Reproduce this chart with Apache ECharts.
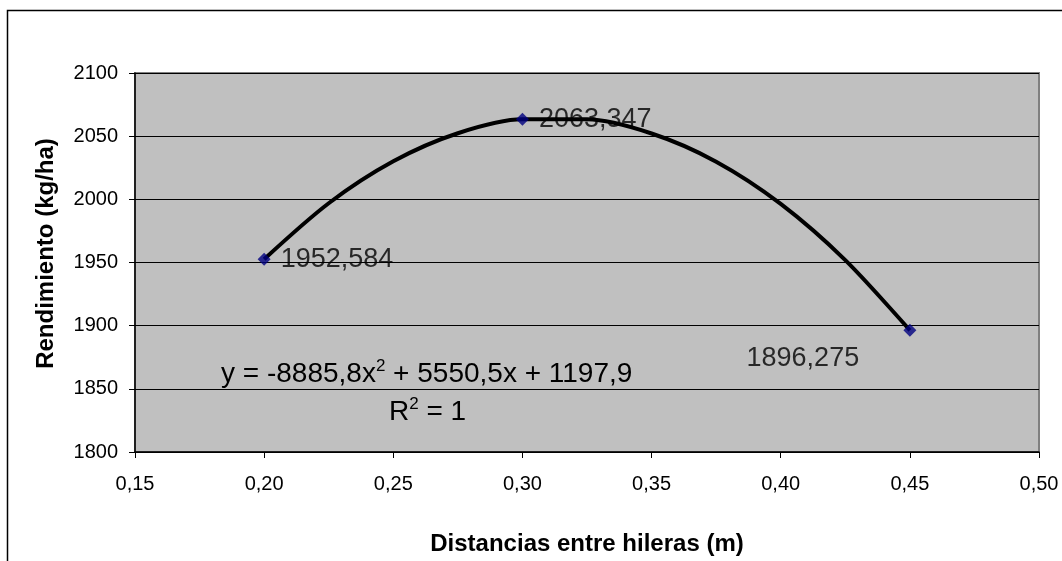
<!DOCTYPE html>
<html lang="es">
<head>
    <meta charset="UTF-8">
    <title>Rendimiento</title>
    <script type="text/javascript" src="https://cdn.jsdelivr.net/npm/echarts@6/dist/echarts.min.js"></script>
    <style>
        body { margin: 0; }
    </style>
</head>
<body>
<div id="main" style="width: 1062px;height:561px"></div>

<script type="text/javascript">
    // puntos observados
    var distancias = [0.20, 0.30, 0.45];
    var rendimientos = [1952.584, 2063.347, 1896.275];
    var etiquetas = ['1952,584', '2063,347', '1896,275'];

    // linea de tendencia
    var trendX = [0.20, 0.225, 0.25, 0.275, 0.30, 0.325, 0.35, 0.375, 0.40, 0.425, 0.45];
    var trendY = [1952.6, 1996.9, 2030.1, 2052.3, 2063.3, 2063.3, 2052.1, 2029.8, 1996.4, 1951.9, 1896.3];

    var xTicks = ['0,15', '0,20', '0,25', '0,30', '0,35', '0,40', '0,45', '0,50'];

    var font = 'Liberation Sans, Arial, sans-serif';
    var chartDom = document.getElementById('main');
    var myChart = echarts.init(chartDom);

    var trendData = [];
    for (var i = 0; i < trendX.length; i++) {
        trendData.push([trendX[i], trendY[i]]);
    }
    var pointData = [];
    for (var j = 0; j < distancias.length; j++) {
        var p = {value: [distancias[j], rendimientos[j]], label: {formatter: etiquetas[j]}};
        if (j === 2) {
            p.label.position = 'inside';
            p.label.offset = [-107, 28];
        }
        pointData.push(p);
    }

    var rich = {
        n: {fontSize: 28, fontFamily: font, fill: '#000', verticalAlign: 'bottom'},
        s: {fontSize: 17, fontFamily: font, fill: '#000', verticalAlign: 'top', padding: [0, 0, 13, 0]}
    };

    var option = {
        animation: false,
        textStyle: {fontFamily: font},
        graphic: [
            {
                type: 'rect',
                shape: {x: 7.5, y: 10.5, width: 1100, height: 600},
                style: {fill: 'none', stroke: '#000', lineWidth: 1.5},
                z: 0
            },
            {
                type: 'text',
                left: 221, top: 358,
                style: {text: '{n|y = -8885,8x}{s|2}{n| + 5550,5x + 1197,9}', rich: rich},
                z: 10
            },
            {
                type: 'text',
                left: 389, top: 396,
                style: {text: '{n|R}{s|2}{n| = 1}', rich: rich},
                z: 10
            }
        ],
        grid: {
            left: 135, top: 73, right: 23, bottom: 107,
            show: true,
            backgroundColor: '#C0C0C0',
            borderColor: '#808080',
            borderWidth: 2
        },
        xAxis: {
            type: 'value',
            min: 0.15, max: 0.50, interval: 0.05,
            name: 'Distancias entre hileras (m)',
            nameLocation: 'middle',
            nameGap: 80,
            nameTextStyle: {fontSize: 24, fontWeight: 'bold', color: '#000', fontFamily: font},
            axisLine: {show: true, lineStyle: {color: '#000', width: 1.5}},
            axisTick: {show: true, inside: false, length: 6, lineStyle: {color: '#000'}},
            axisLabel: {
                fontSize: 20, color: '#000', margin: 22,
                formatter: function (v) {
                    var k = Math.round((v - 0.15) / 0.05);
                    return xTicks[k];
                }
            },
            splitLine: {show: false}
        },
        yAxis: {
            type: 'value',
            min: 1800, max: 2100, interval: 50,
            name: 'Rendimiento (kg/ha)',
            nameLocation: 'middle',
            nameGap: 77,
            nameRotate: 90,
            nameTextStyle: {fontSize: 24, fontWeight: 'bold', color: '#000', fontFamily: font, padding: [0, 0, 0, 18]},
            axisLine: {show: true, lineStyle: {color: '#000', width: 1.5}},
            axisTick: {show: true, inside: false, length: 6, lineStyle: {color: '#000'}},
            axisLabel: {
                fontSize: 20, color: '#000', margin: 17,
                formatter: function (v) { return String(v); }
            },
            splitLine: {show: true, lineStyle: {color: '#000', width: 1}}
        },
        series: [
            {
                type: 'line',
                data: trendData,
                smooth: 0.3,
                symbol: 'none',
                lineStyle: {color: '#000', width: 4},
                z: 3
            },
            {
                type: 'scatter',
                data: pointData,
                symbol: 'diamond',
                symbolSize: 13,
                itemStyle: {color: '#000080'},
                label: {
                    show: true,
                    position: 'right',
                    distance: 10,
                    fontSize: 27,
                    color: '#000',
                    fontFamily: font
                },
                z: 4
            }
        ]
    };

    option && myChart.setOption(option);
</script>
</body>
</html>
